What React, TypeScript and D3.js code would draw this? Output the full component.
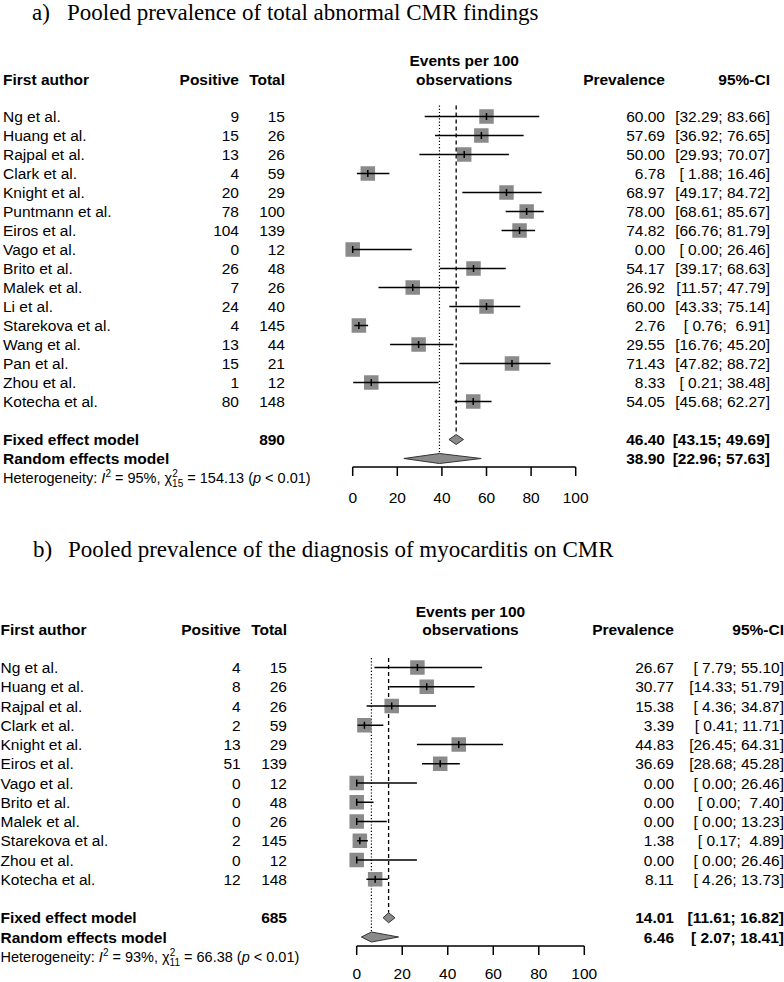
import React from "react";
import * as d3 from "d3";

// ---------- Panel a data ----------
const authorsA = ["Ng et al.", "Huang et al.", "Rajpal et al.", "Clark et al.", "Knight et al.", "Puntmann et al.", "Eiros et al.", "Vago et al.", "Brito et al.", "Malek et al.", "Li et al.", "Starekova et al.", "Wang et al.", "Pan et al.", "Zhou et al.", "Kotecha et al."];
const positiveA = [9, 15, 13, 4, 20, 78, 104, 0, 26, 7, 24, 4, 13, 15, 1, 80];
const totalA = [15, 26, 26, 59, 29, 100, 139, 12, 48, 26, 40, 145, 44, 21, 12, 148];
const prevA = [60.0, 57.69, 50.0, 6.78, 68.97, 78.0, 74.82, 0.0, 54.17, 26.92, 60.0, 2.76, 29.55, 71.43, 8.33, 54.05];
const lowerA = [32.29, 36.92, 29.93, 1.88, 49.17, 68.61, 66.76, 0.0, 39.17, 11.57, 43.33, 0.76, 16.76, 47.82, 0.21, 45.68];
const upperA = [83.66, 76.65, 70.07, 16.46, 84.72, 85.67, 81.79, 26.46, 68.63, 47.79, 75.14, 6.91, 45.2, 88.72, 38.48, 62.27];
const fixedA = [46.4, 43.15, 49.69];
const randomA = [38.9, 22.96, 57.63];
const sumA = 890;
const hetA = { i2: "95%", df: "15", q: "154.13" };

// ---------- Panel b data ----------
const authorsB = ["Ng et al.", "Huang et al.", "Rajpal et al.", "Clark et al.", "Knight et al.", "Eiros et al.", "Vago et al.", "Brito et al.", "Malek et al.", "Starekova et al.", "Zhou et al.", "Kotecha et al."];
const positiveB = [4, 8, 4, 2, 13, 51, 0, 0, 0, 2, 0, 12];
const totalB = [15, 26, 26, 59, 29, 139, 12, 48, 26, 145, 12, 148];
const prevB = [26.67, 30.77, 15.38, 3.39, 44.83, 36.69, 0.0, 0.0, 0.0, 1.38, 0.0, 8.11];
const lowerB = [7.79, 14.33, 4.36, 0.41, 26.45, 28.68, 0.0, 0.0, 0.0, 0.17, 0.0, 4.26];
const upperB = [55.1, 51.79, 34.87, 11.71, 64.31, 45.28, 26.46, 7.4, 13.23, 4.89, 26.46, 13.73];
const fixedB = [14.01, 11.61, 16.82];
const randomB = [6.46, 2.07, 18.41];
const sumB = 685;
const hetB = { i2: "93%", df: "11", q: "66.38" };

const ticks = [0, 20, 40, 60, 80, 100];

const titles = [
  { tag: "a)", text: "Pooled prevalence of total abnormal CMR findings" },
  { tag: "b)", text: "Pooled prevalence of the diagnosis of myocarditis on CMR" },
];

const SANS = "'Liberation Sans', Arial, Helvetica, sans-serif";
const SERIF = "'Liberation Serif', 'Times New Roman', serif";
const FS = 15.5;
const SQ = "#8a8a8a";

const pad5 = (v: number) => {
  const s = v.toFixed(2);
  return s.length < 5 ? " ".repeat(5 - s.length) + s : s;
};
const ciText = (lo: number, hi: number) => `[${pad5(lo)}; ${pad5(hi)}]`;

type Layout = {
  titleY: number; tagX: number; titleX: number;
  headerBase: number; eventsBase: number;
  rowY0: number; step: number;
  x0: number; x1: number;
  leftX: number; posRight: number; totRight: number; prevRight: number; ciRight: number;
  axisY: number; tickLabelBase: number; vTop: number;
};

type Data = {
  authors: string[]; positive: number[]; total: number[]; prev: number[];
  lower: number[]; upper: number[]; fixed: number[]; random: number[];
  sum: number; het: { i2: string; df: string; q: string };
  title: { tag: string; text: string };
};

function Forest({ L, D }: { L: Layout; D: Data }) {
  const x = d3.scaleLinear().domain([0, 100]).range([L.x0, L.x1]);
  const n = D.authors.length;
  const rowY = (i: number) => L.rowY0 + i * L.step;
  const fixedY = rowY(n + 1);
  const randomY = rowY(n + 2);
  const hetY = rowY(n + 3);
  const tb = 5.5; // text baseline offset
  const sq = 14.5;
  const dh = 5;
  const diamond = (m: number[], y: number) =>
    `M${x(m[1])},${y} L${x(m[0])},${y - dh} L${x(m[2])},${y} L${x(m[0])},${y + dh} Z`;

  return (
    <g>
      {/* Title */}
      <text x={L.tagX} y={L.titleY} fontFamily={SERIF} fontSize={23} fill="#000">{D.title.tag}</text>
      <text x={L.titleX} y={L.titleY} fontFamily={SERIF} fontSize={23} fill="#000">{D.title.text}</text>

      {/* Header */}
      <g fontFamily={SANS} fontSize={FS} fontWeight="bold" fill="#000">
        <text x={L.leftX} y={L.headerBase}>First author</text>
        <text x={L.posRight} y={L.headerBase} textAnchor="end">Positive</text>
        <text x={L.totRight} y={L.headerBase} textAnchor="end">Total</text>
        <text x={(L.x0 + L.x1) / 2} y={L.eventsBase} textAnchor="middle">Events per 100</text>
        <text x={(L.x0 + L.x1) / 2} y={L.headerBase} textAnchor="middle">observations</text>
        <text x={L.prevRight} y={L.headerBase} textAnchor="end">Prevalence</text>
        <text x={L.ciRight} y={L.headerBase} textAnchor="end">95%-CI</text>
      </g>

      {/* Study rows text */}
      <g fontFamily={SANS} fontSize={FS} fill="#000">
        {D.authors.map((a, i) => (
          <g key={a + i}>
            <text x={L.leftX} y={rowY(i) + tb}>{a}</text>
            <text x={L.posRight} y={rowY(i) + tb} textAnchor="end">{D.positive[i]}</text>
            <text x={L.totRight} y={rowY(i) + tb} textAnchor="end">{D.total[i]}</text>
            <text x={L.prevRight} y={rowY(i) + tb} textAnchor="end">{D.prev[i].toFixed(2)}</text>
            <text x={L.ciRight} y={rowY(i) + tb} textAnchor="end" style={{ whiteSpace: "pre" }}>{ciText(D.lower[i], D.upper[i])}</text>
          </g>
        ))}
      </g>

      {/* Summary rows */}
      <g fontFamily={SANS} fontSize={FS} fontWeight="bold" fill="#000">
        <text x={L.leftX} y={fixedY + tb}>Fixed effect model</text>
        <text x={L.totRight} y={fixedY + tb} textAnchor="end">{D.sum}</text>
        <text x={L.prevRight} y={fixedY + tb} textAnchor="end">{D.fixed[0].toFixed(2)}</text>
        <text x={L.ciRight} y={fixedY + tb} textAnchor="end" style={{ whiteSpace: "pre" }}>{ciText(D.fixed[1], D.fixed[2])}</text>
        <text x={L.leftX} y={randomY + tb}>Random effects model</text>
        <text x={L.prevRight} y={randomY + tb} textAnchor="end">{D.random[0].toFixed(2)}</text>
        <text x={L.ciRight} y={randomY + tb} textAnchor="end" style={{ whiteSpace: "pre" }}>{ciText(D.random[1], D.random[2])}</text>
      </g>

      {/* Heterogeneity */}
      <text x={L.leftX} y={hetY + tb} fontFamily={SANS} fontSize={14.5} fill="#000" style={{ whiteSpace: "pre" }}>
        <tspan>Heterogeneity: </tspan>
        <tspan fontStyle="italic">I</tspan>
        <tspan fontSize={10} dy={-6}>2</tspan>
        <tspan dy={6}>{` = ${D.het.i2}, χ`}</tspan>
        <tspan fontSize={10} dy={-6}>2</tspan>
        <tspan fontSize={10} dx={-5.6} dy={10}>{D.het.df}</tspan>
        <tspan dy={-4}>{` = ${D.het.q} (`}</tspan>
        <tspan fontStyle="italic">p</tspan>
        <tspan>{" < 0.01)"}</tspan>
      </text>

      {/* Reference lines */}
      <line x1={x(D.random[0])} x2={x(D.random[0])} y1={L.vTop} y2={randomY - dh} stroke="#000" strokeWidth={1.2} strokeDasharray="1.2,2" />
      <line x1={x(D.fixed[0])} x2={x(D.fixed[0])} y1={L.vTop} y2={fixedY - dh} stroke="#000" strokeWidth={1.3} strokeDasharray="4,3" />

      {/* Study marks */}
      {D.prev.map((p, i) => (
        <g key={"m" + i}>
          <rect x={x(p) - sq / 2} y={rowY(i) - sq / 2} width={sq} height={sq} fill={SQ} />
          <line x1={x(D.lower[i])} x2={x(D.upper[i])} y1={rowY(i)} y2={rowY(i)} stroke="#000" strokeWidth={1.5} />
          <line x1={x(p)} x2={x(p)} y1={rowY(i) - 3.5} y2={rowY(i) + 3.5} stroke="#000" strokeWidth={1.5} />
        </g>
      ))}

      {/* Diamonds */}
      <path d={diamond(D.fixed, fixedY)} fill={SQ} stroke="#333" strokeWidth={1} />
      <path d={diamond(D.random, randomY)} fill={SQ} stroke="#333" strokeWidth={1} />

      {/* Axis */}
      <line x1={L.x0} x2={L.x1} y1={L.axisY} y2={L.axisY} stroke="#000" strokeWidth={1.5} />
      {ticks.map((t) => (
        <g key={"t" + t}>
          <line x1={x(t)} x2={x(t)} y1={L.axisY} y2={L.axisY + 9} stroke="#000" strokeWidth={1.5} />
          <text x={x(t)} y={L.tickLabelBase} textAnchor="middle" fontFamily={SANS} fontSize={FS} fill="#000">{t}</text>
        </g>
      ))}
    </g>
  );
}

const layoutA: Layout = {
  titleY: 20, tagX: 32, titleX: 67,
  headerBase: 85, eventsBase: 66,
  rowY0: 116.5, step: 19,
  x0: 352.7, x1: 575.7,
  leftX: 3, posRight: 239, totRight: 285, prevRight: 665, ciRight: 770,
  axisY: 467, tickLabelBase: 502.5, vTop: 105.5,
};

const layoutB: Layout = {
  titleY: 557, tagX: 33, titleX: 68,
  headerBase: 635, eventsBase: 617,
  rowY0: 667.5, step: 19.25,
  x0: 356.7, x1: 584.3,
  leftX: 0.5, posRight: 240.7, totRight: 287, prevRight: 674, ciRight: 784,
  axisY: 946, tickLabelBase: 978.5, vTop: 658,
};

const dataA: Data = {
  authors: authorsA, positive: positiveA, total: totalA, prev: prevA,
  lower: lowerA, upper: upperA, fixed: fixedA, random: randomA, sum: sumA, het: hetA, title: titles[0],
};
const dataB: Data = {
  authors: authorsB, positive: positiveB, total: totalB, prev: prevB,
  lower: lowerB, upper: upperB, fixed: fixedB, random: randomB, sum: sumB, het: hetB, title: titles[1],
};

export default function App() {
  return (
    <svg width={784} height={982} style={{ position: "absolute", left: 0, top: 0, background: "#fff" }}>
      <rect width={784} height={982} fill="#fff" />
      <Forest L={layoutA} D={dataA} />
      <Forest L={layoutB} D={dataB} />
    </svg>
  );
}
